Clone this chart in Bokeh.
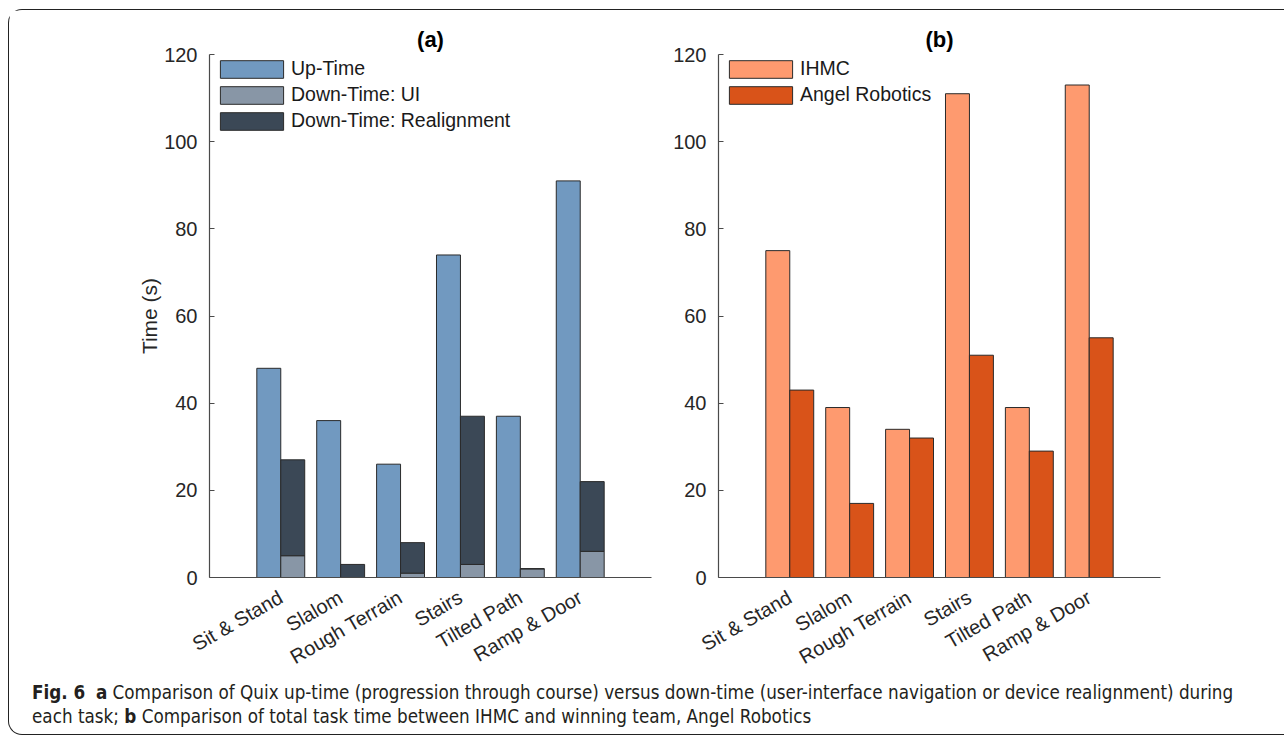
import math
from bokeh.plotting import figure
from bokeh.models import FactorRange, Div, ColumnDataSource
from bokeh.transform import dodge
from bokeh.layouts import row, column
from bokeh.embed import file_html
from bokeh.resources import INLINE

# ---------------- data ----------------
tasks = ["Sit & Stand", "Slalom", "Rough Terrain", "Stairs", "Tilted Path", "Ramp & Door"]
up_time = [48, 36, 26, 74, 37, 91]
down_ui = [5, 0, 1, 3, 2, 6]
down_realign = [22, 3, 7, 34, 0, 16]
ihmc = [75, 39, 34, 111, 39, 113]
angel = [43, 17, 32, 51, 29, 55]
y_ticks = [0, 20, 40, 60, 80, 100, 120]

FONT = "Arial"
TXT = "#262626"
AX = "#4a4a4a"
EDGE = "#2a2a2a"


def make_fig(title, left, right, ylabel):
    p = figure(
        x_range=FactorRange(factors=tasks, range_padding=0.69, range_padding_units="absolute"),
        y_range=(0, 120),
        frame_width=442, frame_height=523,
        min_border_left=left, min_border_right=right,
        min_border_top=44, min_border_bottom=96,
        output_backend="svg", toolbar_location=None, title=title,
    )
    p.outline_line_color = None
    p.grid.grid_line_color = None
    p.background_fill_color = "white"
    p.border_fill_color = "white"
    p.title.text_font = FONT
    p.title.text_font_size = "22px"
    p.title.text_font_style = "bold"
    p.title.text_color = "black"
    p.title.align = "center"
    p.title.standoff = 5
    for ax in (p.xaxis[0], p.yaxis[0]):
        ax.axis_line_color = AX
        ax.axis_line_width = 1.2
        ax.major_label_text_font = FONT
        ax.major_label_text_color = TXT
        ax.minor_tick_line_color = None
    p.yaxis.ticker = y_ticks
    p.yaxis.major_tick_in = 5
    p.yaxis.major_tick_out = 0
    p.yaxis.major_tick_line_color = AX
    p.yaxis.major_label_text_font_size = "20px"
    p.yaxis.major_label_standoff = 12
    if ylabel:
        p.yaxis.axis_label = ylabel
        p.yaxis.axis_label_text_font = FONT
        p.yaxis.axis_label_text_font_size = "21px"
        p.yaxis.axis_label_text_font_style = "normal"
        p.yaxis.axis_label_text_color = TXT
        p.yaxis.axis_label_standoff = 0
    p.xaxis.major_tick_in = 0
    p.xaxis.major_tick_out = 0
    p.xaxis.major_label_orientation = math.pi / 6
    p.xaxis.major_label_text_font_size = "20px"
    p.xaxis.major_label_standoff = 18
    return p


# ---------------- panel (a) ----------------
src_a = ColumnDataSource(dict(task=tasks, up=up_time, ui=down_ui, realign=down_realign))
pa = make_fig("(a)", 200, 14, "Time (s)")
pa.vbar(x=dodge("task", -0.2, range=pa.x_range), top="up", width=0.4, source=src_a,
        fill_color="#7199c0", line_color=EDGE, line_width=1, legend_label="Up-Time")
pa.vbar_stack(["ui", "realign"], x=dodge("task", 0.2, range=pa.x_range), width=0.4, source=src_a,
              fill_color=["#8896a6", "#3b4856"], line_color=EDGE, line_width=1,
              legend_label=["Down-Time: UI", "Down-Time: Realignment"])

# ---------------- panel (b) ----------------
src_b = ColumnDataSource(dict(task=tasks, ihmc=ihmc, angel=angel))
pb = make_fig("(b)", 53, 120, None)
pb.vbar(x=dodge("task", -0.2, range=pb.x_range), top="ihmc", width=0.4, source=src_b,
        fill_color="#fe9a6f", line_color=EDGE, line_width=1, legend_label="IHMC")
pb.vbar(x=dodge("task", 0.2, range=pb.x_range), top="angel", width=0.4, source=src_b,
        fill_color="#d95319", line_color=EDGE, line_width=1, legend_label="Angel Robotics")

for p in (pa, pb):
    lg = p.legend[0]
    lg.location = "top_left"
    lg.margin = 1
    lg.padding = 2
    lg.spacing = 3
    lg.glyph_width = 79
    lg.glyph_height = 22
    lg.label_height = 22
    lg.label_standoff = 0
    lg.label_text_font = FONT
    lg.label_text_font_size = "19.5px"
    lg.label_text_color = "#1a1a1a"
    lg.border_line_alpha = 0
    lg.background_fill_alpha = 0

caption = Div(
    text=(
        '<div style="font-family:\'DejaVu Sans Condensed\',\'Open Sans\',sans-serif;font-stretch:condensed;'
        'font-size:18.7px;line-height:24px;color:#231f20;padding-left:18px;padding-top:6px;white-space:nowrap">'
        '<b>Fig. 6</b>&nbsp; <b>a</b> Comparison of Quix up-time (progression through course) versus down-time '
        '(user-interface navigation or device realignment) during<br>each task; <b>b</b> Comparison of total task '
        'time between IHMC and winning team, Angel Robotics</div>'
    ),
    width=1270, height=54,
    styles={"margin-top": "-5px"},
)

layout = column(
    row(pa, pb),
    caption,
    styles={"border": "1.5px solid #222", "border-right": "none",
            "border-radius": "14px 0 0 14px", "background": "white",
            "margin-left": "8px", "margin-top": "9px"},
)

with open("out.html", "w") as f:
    f.write(file_html(layout, INLINE))
